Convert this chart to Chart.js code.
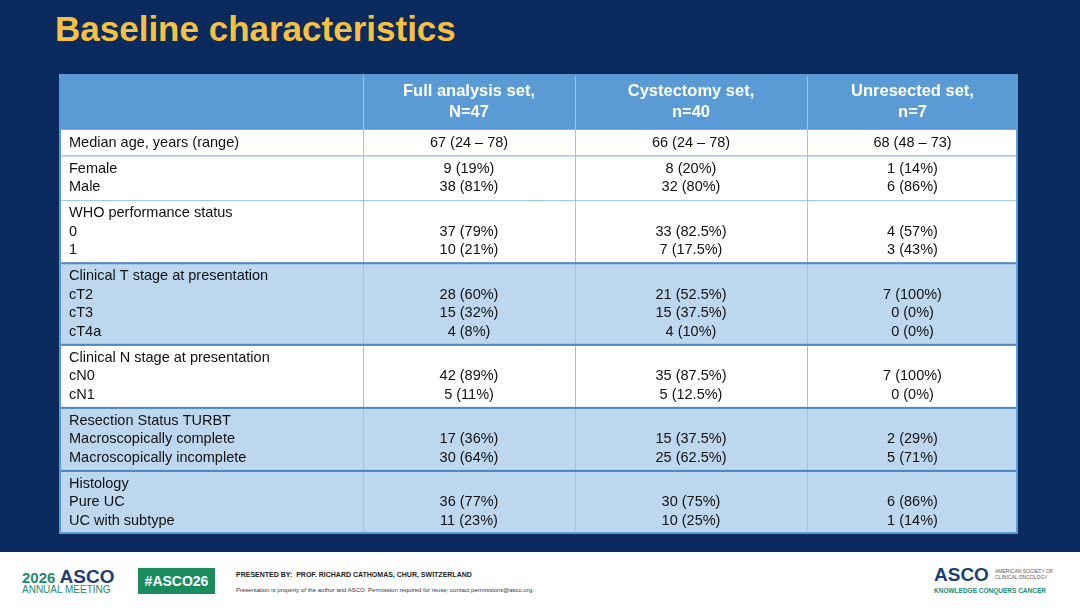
<!DOCTYPE html>
<html><head><meta charset="utf-8">
<script src="https://cdn.jsdelivr.net/npm/chart.js@4.4.1/dist/chart.umd.min.js"></script>
<style>
body{margin:0;width:1080px;height:608px;background:#0b2a5e;font-family:"Liberation Sans",Arial,sans-serif;position:relative;overflow:hidden}
h1{position:absolute;left:55px;top:9px;margin:0;color:#f6c143;font-size:35px;font-weight:bold}
#wrap{position:absolute;left:59px;top:74px;width:959px;height:460px}
#footer{position:absolute;left:0;top:552px;width:1080px;height:56px;background:#fff}
.f{position:absolute;white-space:nowrap}
</style></head><body>
<h1>Baseline characteristics</h1>
<div id="wrap"><canvas id="tbl"></canvas></div>
<div id="footer">
  <div class="f" style="left:22px;top:14px;color:#1f8a6c;font-size:15px;font-weight:bold">2026 <span style="color:#1d3e73;font-size:19px">ASCO</span></div>
  <div class="f" style="left:22px;top:32px;color:#1f8a6c;font-size:10px">ANNUAL MEETING</div>
  <div class="f" style="left:138px;top:16px;width:77px;height:26px;background:#1a8c5e;color:#fff;font-size:14px;font-weight:bold;text-align:center;line-height:26px">#ASCO26</div>
  <div class="f" style="left:236px;top:19px;font-size:7px;color:#222;font-weight:bold">PRESENTED BY:&nbsp; PROF. RICHARD CATHOMAS, CHUR, SWITZERLAND</div>
  <div class="f" style="left:236px;top:35px;font-size:6px;color:#333">Presentation is property of the author and ASCO. Permission required for reuse; contact permissions@asco.org.</div>
  <div class="f" style="left:934px;top:12px;font-size:19px;font-weight:bold;color:#1d3e73">ASCO</div>
  <div class="f" style="left:995px;top:16px;font-size:5px;color:#555;line-height:6px">AMERICAN SOCIETY OF<br>CLINICAL ONCOLOGY</div>
  <div class="f" style="left:934px;top:35px;font-size:6.5px;color:#1f8a6c;font-weight:bold">KNOWLEDGE CONQUERS CANCER</div>
</div>
<script>
const headers = ['', 'Full analysis set,\nN=47', 'Cystectomy set,\nn=40', 'Unresected set,\nn=7'];
const rowLabels = [
  ['Median age, years (range)'],
  ['Female', 'Male'],
  ['WHO performance status', '0', '1'],
  ['Clinical T stage at presentation', 'cT2', 'cT3', 'cT4a'],
  ['Clinical N stage at presentation', 'cN0', 'cN1'],
  ['Resection Status TURBT', 'Macroscopically complete', 'Macroscopically incomplete'],
  ['Histology', 'Pure UC', 'UC with subtype']
];
const fullSet = [
  ['67 (24 – 78)'], ['9 (19%)', '38 (81%)'], ['', '37 (79%)', '10 (21%)'],
  ['', '28 (60%)', '15 (32%)', '4 (8%)'], ['', '42 (89%)', '5 (11%)'],
  ['17 (36%)', '30 (64%)'], ['', '36 (77%)', '11 (23%)']
];
const cystSet = [
  ['66 (24 – 78)'], ['8 (20%)', '32 (80%)'], ['', '33 (82.5%)', '7 (17.5%)'],
  ['', '21 (52.5%)', '15 (37.5%)', '4 (10%)'], ['', '35 (87.5%)', '5 (12.5%)'],
  ['15 (37.5%)', '25 (62.5%)'], ['', '30 (75%)', '10 (25%)']
];
const unresSet = [
  ['68 (48 – 73)'], ['1 (14%)', '6 (86%)'], ['', '4 (57%)', '3 (43%)'],
  ['', '7 (100%)', '0 (0%)', '0 (0%)'], ['', '7 (100%)', '0 (0%)'],
  ['2 (29%)', '5 (71%)'], ['', '6 (86%)', '1 (14%)']
];
const highlighted = [3, 5, 6];

// layout: column widths in px units, rows in text-line units
const colW = [304, 212, 232, 211];
const colX = [0]; colW.forEach(w => colX.push(colX[colX.length - 1] + w));
const headLines = 3, pad = 0.4;
const rowY = [0, headLines];
rowLabels.forEach(g => rowY.push(rowY[rowY.length - 1] + g.length + pad));
const totalY = rowY[rowY.length - 1];

const tablePlugin = {
  id: 'table',
  afterDraw(chart) {
    const c = chart.ctx, xs = chart.scales.x, ys = chart.scales.y;
    const X = v => xs.getPixelForValue(v), Y = v => ys.getPixelForValue(v);
    const cols = [null, fullSet, cystSet, unresSet];
    // header
    c.fillStyle = '#5b9bd5';
    c.fillRect(X(0), Y(0), X(colX[4]) - X(0), Y(headLines) - Y(0));
    c.fillStyle = '#fff'; c.font = 'bold 16.5px "Liberation Sans", Arial'; c.textAlign = 'center'; c.textBaseline = 'middle';
    headers.forEach((h, i) => {
      const lines = h.split('\n'), cx = (X(colX[i]) + X(colX[i + 1])) / 2;
      lines.forEach((l, k) => c.fillText(l, cx, Y(headLines / 2) + (k - (lines.length - 1) / 2) * 21));
    });
    // body rows
    rowLabels.forEach((g, gi) => {
      const y0 = Y(rowY[gi + 1]), y1 = Y(rowY[gi + 2]);
      c.fillStyle = highlighted.includes(gi) ? '#bdd7ee' : '#ffffff';
      c.fillRect(X(0), y0, X(colX[4]) - X(0), y1 - y0);
      c.fillStyle = '#111'; c.font = '14.5px "Liberation Sans", Arial';
      const lineY = k => Y(rowY[gi + 1] + pad / 2 + k + 0.5);
      c.textAlign = 'left';
      g.forEach((t, k) => c.fillText(t, X(0) + 10, lineY(k)));
      c.textAlign = 'center';
      for (let ci = 1; ci < 4; ci++) {
        const vals = cols[ci][gi], off = g.length - vals.length;
        vals.forEach((t, k) => c.fillText(t, (X(colX[ci]) + X(colX[ci + 1])) / 2, lineY(k + off)));
      }
    });
    // grid lines
    c.strokeStyle = '#9dc3e6'; c.lineWidth = 1;
    for (let i = 1; i < 4; i++) {
      c.beginPath(); c.moveTo(X(colX[i]) + 0.5, Y(0)); c.lineTo(X(colX[i]) + 0.5, Y(totalY)); c.stroke();
    }
    for (let r = 2; r < rowY.length - 1; r++) {
      c.beginPath(); c.moveTo(X(0), Y(rowY[r]) + 0.5); c.lineTo(X(colX[4]), Y(rowY[r]) + 0.5); c.stroke();
    }
    c.strokeStyle = '#4f86c6'; c.lineWidth = 2;
    highlighted.forEach(gi => c.strokeRect(X(0) + 1, Y(rowY[gi + 1]), X(colX[4]) - X(0) - 2, Y(rowY[gi + 2]) - Y(rowY[gi + 1])));
    c.strokeStyle = '#5b9bd5';
    c.strokeRect(X(0) + 1, Y(0) + 1, X(colX[4]) - X(0) - 2, Y(totalY) - Y(0) - 2);
  }
};

new Chart(document.getElementById('tbl'), {
  type: 'scatter',
  data: { datasets: [{ data: [] }] },
  options: {
    responsive: true, maintainAspectRatio: false, animation: false,
    layout: { padding: 0 },
    plugins: { legend: { display: false }, tooltip: { enabled: false } },
    scales: {
      x: { type: 'linear', min: 0, max: colX[4], display: false },
      y: { type: 'linear', min: 0, max: totalY, reverse: true, display: false }
    }
  },
  plugins: [tablePlugin]
});
</script>
</body></html>
